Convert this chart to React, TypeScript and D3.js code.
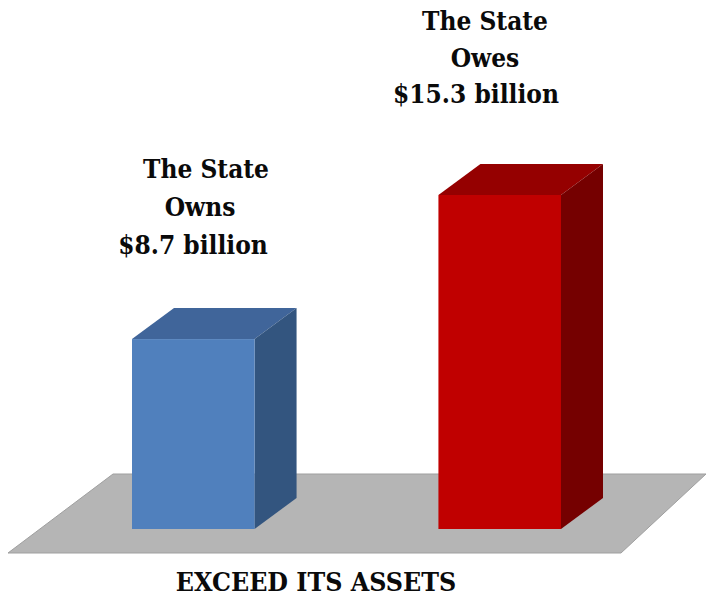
import React from 'react';
import * as d3 from 'd3';

const categories = ['Owns', 'Owes'];
const values = [8.7, 15.3];
const labelLines = [
  ['The State', 'Owns', '$8.7 billion'],
  ['The State', 'Owes', '$15.3 billion'],
];
const caption = 'EXCEED ITS ASSETS';
const front = ['#5080bd', '#c00000'];
const top = ['#40659a', '#950000'];
const side = ['#33557f', '#750000'];

const depthX = 42;
const depthY = 31;
const baseY = 529;

export default function App() {
  const x = d3.scaleBand().domain(categories).range([132, 561]).paddingInner(0.6).paddingOuter(0);
  const y = d3.scaleLinear().domain([0, 15.3]).range([baseY, 195]);
  const floor = d3.line()([[8, 553], [113, 474], [706, 474], [621, 553]]) + 'Z';

  return (
    <svg width={706} height={596} style={{ position: 'absolute', left: 0, top: 0, background: '#fff' }}>
      <path d={floor} fill="#b5b5b5" stroke="#9f9f9f" strokeWidth={1} />
      {categories.map((c, i) => {
        const x0 = x(c)!;
        const x1 = x0 + x.bandwidth();
        const yt = y(values[i]);
        return (
          <g key={c}>
            <path d={d3.line()([[x0, yt], [x0 + depthX, yt - depthY], [x1 + depthX, yt - depthY], [x1, yt]]) + 'Z'} fill={top[i]} />
            <path d={d3.line()([[x1, yt], [x1 + depthX, yt - depthY], [x1 + depthX, baseY - depthY], [x1, baseY]]) + 'Z'} fill={side[i]} />
            <rect x={x0} y={yt} width={x.bandwidth()} height={baseY - yt} fill={front[i]} />
          </g>
        );
      })}
      <g fontFamily='"DejaVu Serif Condensed", "DejaVu Serif", serif' fontStretch="condensed" fontWeight="bold" fontSize={26} fill="#0a0a0a">
        <text x={206} y={178} textAnchor="middle">{labelLines[0][0]}</text>
        <text x={200} y={216} textAnchor="middle">{labelLines[0][1]}</text>
        <text x={193} y={254} textAnchor="middle">{labelLines[0][2]}</text>
        <text x={485} y={30} textAnchor="middle">{labelLines[1][0]}</text>
        <text x={485} y={67} textAnchor="middle">{labelLines[1][1]}</text>
        <text x={476} y={103} textAnchor="middle">{labelLines[1][2]}</text>
        <text x={316} y={591} textAnchor="middle" fontSize={26.5}>{caption}</text>
      </g>
    </svg>
  );
}
